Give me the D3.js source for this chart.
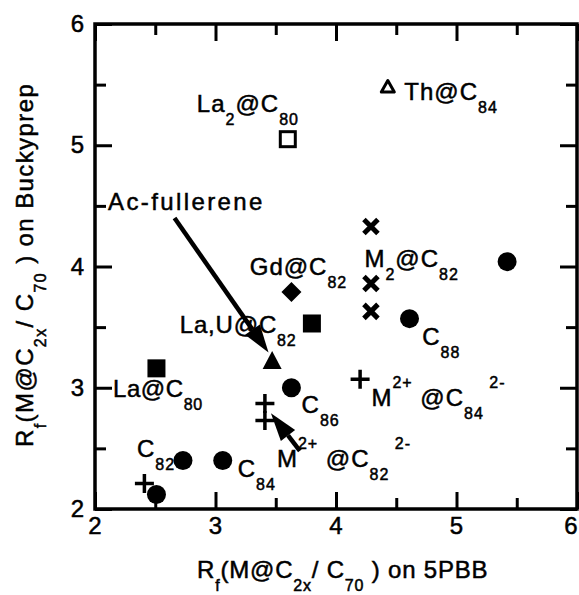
<!DOCTYPE html>
<html>
<head>
<meta charset="utf-8">
<script src="https://cdn.jsdelivr.net/npm/d3@7"></script>
<style>
  html, body { margin: 0; padding: 0; background: #fff; }
  svg { display: block; }
  text { font-family: "Liberation Sans", Arial, Helvetica, sans-serif; fill: #000;
         stroke: #000; stroke-width: 0.5px; }
</style>
</head>
<body>
<svg id="chart" width="579" height="595"></svg>
<script>
// Retention factors Rf(M@C2x / C70): x = on 5PBB column, y = on Buckyprep column

// Empty higher fullerenes (filled circles)
const emptyX = [2.51, 2.73, 3.06, 3.63, 4.61, 5.42];
const emptyY = [2.12, 2.40, 2.40, 3.00, 3.57, 4.04];

// Divalent metallofullerenes M2+@C2x2- (plus signs)
const divalentX = [2.41, 3.41, 3.41, 4.20];
const divalentY = [2.21, 2.87, 2.73, 3.07];

// M2@C82 dimetallofullerenes (crosses)
const dimetalX = [4.29, 4.29, 4.29];
const dimetalY = [4.33, 3.86, 3.63];

// La@C80 and La,U@C82 (filled squares)
const filledSquareX = [2.51, 3.80];
const filledSquareY = [3.16, 3.53];

// Gd@C82 (filled diamond)
const gdX = [3.63];
const gdY = [3.79];

// Ac-fullerene (filled triangle)
const acX = [3.47];
const acY = [3.22];

// La2@C80 (open square)
const la2X = [3.60];
const la2Y = [5.05];

// Th@C84 (open triangle)
const thX = [4.43];
const thY = [5.48];

// Axis ticks
const xTicks = [2, 3, 4, 5, 6];
const yTicks = [2, 3, 4, 5, 6];
const minorTicks = [2.5, 3.5, 4.5, 5.5];

// Label pieces: [text, role] where role is n (normal), sub or sup
const labelText = [
  [["La", "n"], ["2", "sub"], ["@C", "n"], ["80", "sub"]],
  [["Th@C", "n"], ["84", "sub"]],
  [["Ac-fullerene", "n"]],
  [["Gd@C", "n"], ["82", "sub"]],
  [["M", "n"], ["2", "sub"], ["@C", "n"], ["82", "sub"]],
  [["La,U@C", "n"], ["82", "sub"]],
  [["C", "n"], ["88", "sub"]],
  [["M", "n"], ["2+", "sup"], [" @C", "n"], ["84", "sub"], [" 2-", "sup"]],
  [["C", "n"], ["86", "sub"]],
  [["M", "n"], ["2+", "sup"], [" @C", "n"], ["82", "sub"], [" 2-", "sup"]],
  [["La@C", "n"], ["80", "sub"]],
  [["C", "n"], ["82", "sub"]],
  [["C", "n"], ["84", "sub"]]
];
// label anchor (left edge, baseline) in data units
const labelX = [2.845, 4.567, 2.108, 3.284, 4.236, 2.704, 4.716, 4.294, 3.714, 3.510, 2.149, 2.348, 3.184];
const labelY = [5.274, 5.373, 4.466, 3.930, 3.996, 3.452, 3.353, 2.849, 2.792, 2.346, 2.924, 2.429, 2.264];
const labelSpacing = [1, 1, 2.4, 1, 1, 0.8, 1, 1, 1, 1, 0.6, 1, 1];

// Arrows: tail -> head, in data units
const arrowFromX = [2.66, 3.70];
const arrowFromY = [4.40, 2.48];
const arrowToX = [3.44, 3.46];
const arrowToY = [3.29, 2.79];

const svg = d3.select("#chart");
const x = d3.scaleLinear().domain([2, 6]).range([95, 577]);
const y = d3.scaleLinear().domain([2, 6]).range([509, 24]);

const frame = svg.append("g");
const W = x(6) - x(2), H = y(2) - y(6);

// ticks on all four sides, pointing inward
const majorLen = 17, minorLen = 11;
const tickStroke = 3;
function addTicks(axisGen, transform, len, values) {
  const g = frame.append("g").attr("transform", transform)
    .call(axisGen.tickValues(values).tickSize(len).tickFormat(""));
  g.select(".domain").remove();
  g.selectAll(".tick line").attr("stroke", "#000").attr("stroke-width", tickStroke);
  return g;
}
addTicks(d3.axisTop(x), `translate(0,${y(2)})`, majorLen, xTicks);
addTicks(d3.axisTop(x), `translate(0,${y(2)})`, minorLen, minorTicks);
addTicks(d3.axisBottom(x), `translate(0,${y(6)})`, majorLen, xTicks);
addTicks(d3.axisBottom(x), `translate(0,${y(6)})`, minorLen, minorTicks);
addTicks(d3.axisRight(y), `translate(${x(2)},0)`, majorLen, yTicks);
addTicks(d3.axisRight(y), `translate(${x(2)},0)`, minorLen, minorTicks);
addTicks(d3.axisLeft(y), `translate(${x(6)},0)`, majorLen, yTicks);
addTicks(d3.axisLeft(y), `translate(${x(6)},0)`, minorLen, minorTicks);

frame.append("rect")
  .attr("x", x(2)).attr("y", y(6)).attr("width", W).attr("height", H)
  .attr("fill", "none").attr("stroke", "#000").attr("stroke-width", 3.5);

// tick labels (the last x label is kept inside the page edge)
const tickFont = 24;
svg.append("g").selectAll("text").data(xTicks).join("text")
  .attr("x", d => Math.min(x(d), 571)).attr("y", 534)
  .attr("text-anchor", "middle").attr("font-size", tickFont)
  .text(d => d);
svg.append("g").selectAll("text").data(yTicks).join("text")
  .attr("x", 84).attr("y", d => y(d) + 8)
  .attr("text-anchor", "end").attr("font-size", tickFont)
  .text(d => d);

// rich text built from normal / subscript / superscript pieces
function richText(sel, parts) {
  parts.forEach(([t, role]) => {
    const ts = sel.append("tspan").text(t);
    if (role === "sub") ts.attr("font-size", 16).attr("dy", 13);
    else if (role === "sup") ts.attr("font-size", 16).attr("dy", -18);
    else ts.attr("font-size", 24);
  });
}
function fixDy(sel) {
  // dy is relative, so undo the shift of the previous subscript/superscript
  let prev = 0;
  sel.selectAll("tspan").each(function () {
    const t = d3.select(this);
    const own = +(t.attr("dy") || 0);
    t.attr("dy", own - prev);
    prev = own;
  });
}
const xTitleParts = [["R", "n"], ["f", "sub"], ["(M@C", "n"], ["2x", "sub"], ["/ C", "n"], ["70", "sub"], [" ) on 5PBB", "n"]];
const xTitle = svg.append("text").attr("x", 197).attr("y", 578)
  .attr("letter-spacing", 0.8).style("white-space", "pre");
richText(xTitle, xTitleParts);
fixDy(xTitle);

const yTitleParts = [["R", "n"], ["f", "sub"], ["(M@C", "n"], ["2x", "sub"], ["/ C", "n"], ["70", "sub"], [" ) on Buckyprep", "n"]];
const yTitle = svg.append("text")
  .attr("transform", "translate(33,447) rotate(-90)")
  .attr("letter-spacing", 1.4).style("white-space", "pre");
richText(yTitle, yTitleParts);
fixDy(yTitle);

// point labels
const labels = svg.append("g");
labelText.forEach((parts, i) => {
  const t = labels.append("text")
    .attr("x", x(labelX[i])).attr("y", y(labelY[i]))
    .attr("letter-spacing", labelSpacing[i])
    .style("white-space", "pre");
  richText(t, parts);
  fixDy(t);
});

// arrows
const arrows = svg.append("g");
arrowFromX.forEach((_, i) => {
  const x0 = x(arrowFromX[i]), y0 = y(arrowFromY[i]);
  const x1 = x(arrowToX[i]), y1 = y(arrowToY[i]);
  const ang = Math.atan2(y1 - y0, x1 - x0);
  const headLen = 28, headW = 9;
  const bx = x1 - headLen * Math.cos(ang), by = y1 - headLen * Math.sin(ang);
  arrows.append("line")
    .attr("x1", x0).attr("y1", y0).attr("x2", bx).attr("y2", by)
    .attr("stroke", "#000").attr("stroke-width", 4.5);
  const nx = -Math.sin(ang), ny = Math.cos(ang);
  arrows.append("path")
    .attr("d", `M${x1},${y1} L${bx + nx * headW},${by + ny * headW} L${bx - nx * headW},${by - ny * headW} Z`)
    .attr("fill", "#000");
});

// markers
const marks = svg.append("g");
function pts(xs, ys) { return xs.map((v, i) => [v, ys[i]]); }

marks.selectAll(".empty").data(pts(emptyX, emptyY)).join("circle")
  .attr("cx", d => x(d[0])).attr("cy", d => y(d[1])).attr("r", 9.5).attr("fill", "#000");

marks.selectAll(".fsq").data(pts(filledSquareX, filledSquareY)).join("rect")
  .attr("x", d => x(d[0]) - 9).attr("y", d => y(d[1]) - 9)
  .attr("width", 18).attr("height", 18).attr("fill", "#000");

marks.selectAll(".osq").data(pts(la2X, la2Y)).join("rect")
  .attr("x", d => x(d[0]) - 7.5).attr("y", d => y(d[1]) - 7.5)
  .attr("width", 15).attr("height", 15).attr("fill", "#fff")
  .attr("stroke", "#000").attr("stroke-width", 3);

marks.selectAll(".dia").data(pts(gdX, gdY)).join("path")
  .attr("d", d => { const cx = x(d[0]), cy = y(d[1]), r = 10;
    return `M${cx},${cy - r}L${cx + r},${cy}L${cx},${cy + r}L${cx - r},${cy}Z`; })
  .attr("fill", "#000");

marks.selectAll(".ftri").data(pts(acX, acY)).join("path")
  .attr("d", d => { const cx = x(d[0]), cy = y(d[1]);
    return `M${cx},${cy - 10}L${cx + 9.5},${cy + 8}L${cx - 9.5},${cy + 8}Z`; })
  .attr("fill", "#000");

marks.selectAll(".otri").data(pts(thX, thY)).join("path")
  .attr("d", d => { const cx = x(d[0]), cy = y(d[1]);
    return `M${cx},${cy - 6.5}L${cx + 6.5},${cy + 5}L${cx - 6.5},${cy + 5}Z`; })
  .attr("fill", "#fff").attr("stroke", "#000").attr("stroke-width", 3)
  .attr("stroke-linejoin", "round");

marks.selectAll(".cross").data(pts(dimetalX, dimetalY)).join("path")
  .attr("d", d => { const cx = x(d[0]), cy = y(d[1]), r = 7;
    return `M${cx - r},${cy - r}L${cx + r},${cy + r}M${cx + r},${cy - r}L${cx - r},${cy + r}`; })
  .attr("stroke", "#000").attr("stroke-width", 5).attr("fill", "none");

marks.selectAll(".plus").data(pts(divalentX, divalentY)).join("path")
  .attr("d", d => { const cx = x(d[0]), cy = y(d[1]), r = 9.5;
    return `M${cx - r},${cy}L${cx + r},${cy}M${cx},${cy - r}L${cx},${cy + r}`; })
  .attr("stroke", "#000").attr("stroke-width", 3.5).attr("fill", "none");
</script>
</body>
</html>
